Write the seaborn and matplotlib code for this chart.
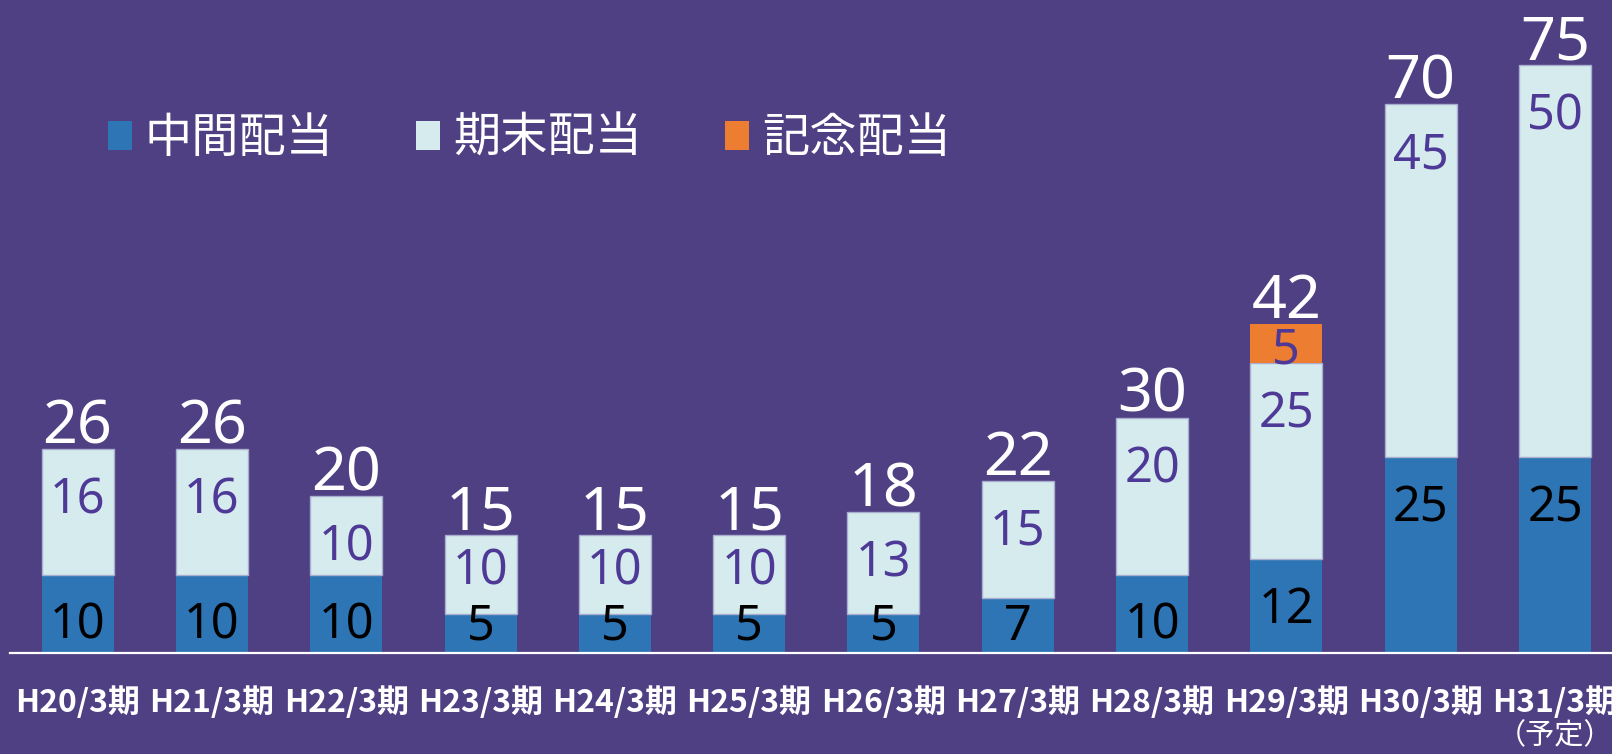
"""Dividend per share chart: interim / year-end / commemorative, stacked bars."""
import numpy as np
import pandas as pd
import matplotlib
matplotlib.use('Agg')
import matplotlib.pyplot as plt
from matplotlib.patches import Patch
import seaborn as sns

periods = ['H20/3期', 'H21/3期', 'H22/3期', 'H23/3期', 'H24/3期', 'H25/3期',
           'H26/3期', 'H27/3期', 'H28/3期', 'H29/3期', 'H30/3期', 'H31/3期']
interim = [10, 10, 10, 5, 5, 5, 5, 7, 10, 12, 25, 25]
year_end = [16, 16, 10, 10, 10, 10, 13, 15, 20, 25, 45, 50]
commem = [0, 0, 0, 0, 0, 0, 0, 0, 0, 5, 0, 0]
series_names = ['中間配当', '期末配当', '記念配当']
note_last = '（予定）'

BG = '#4F4084'
BLUE = '#2E75B6'
LIGHT = '#D6EBEE'
ORANGE = '#ED7D31'
PURPLE = '#4E3996'

df = pd.DataFrame({'period': periods, 'interim': interim,
                   'year_end': year_end, 'commem': commem})
df['base2'] = df['interim']
df['base3'] = df['interim'] + df['year_end']
df['total'] = df['base3'] + df['commem']

sns.set_theme(style='white')
plt.rcParams['font.family'] = ['Noto Sans', 'Noto Sans CJK JP', 'DejaVu Sans']

fig = plt.figure(figsize=(16.12, 7.54), dpi=100, facecolor=BG)
ax = fig.add_axes([10 / 1612, 101 / 754, 1 - 10 / 1612, 653 / 754])
ax.set_facecolor(BG)

W = 0.536
sns.barplot(data=df, x='period', y='interim', color=BLUE, saturation=1,
            width=W, errorbar=None, linewidth=0, ax=ax)
sns.barplot(data=df, x='period', y='year_end', bottom=df['base2'].values,
            color=LIGHT, saturation=1, width=W, errorbar=None,
            edgecolor='#A9AECF', linewidth=1, ax=ax)
sns.barplot(data=df, x='period', y='commem', bottom=df['base3'].values,
            color=ORANGE, saturation=1, width=W, errorbar=None,
            linewidth=0, ax=ax)

ax.set_xlim(-0.503, 11.424)
ax.set_ylim(0, 83.3)

SEG_FS = 35
CAP = 0.714  # digit height / em for Noto Sans


def seg_pos(lo, h, floor=None):
    # label sits ~6 units under the segment top, but not below the bottom
    top = lo + h
    y = max(top - 6.0, lo + 3.9)
    if lo > 0:
        y = min(y, top - 2.9)
    if floor is not None:
        y = max(y, floor)
    return y


def seg_label(i, y, h, color):
    ax.annotate(f'{h}', (i, y), xytext=(0, -CAP * SEG_FS / 2),
                textcoords='offset points', ha='center', va='baseline',
                fontsize=SEG_FS, color=color,
                family=['Noto Sans', 'DejaVu Sans'])


for i, r in df.iterrows():
    y1 = seg_pos(0, r['interim'])
    seg_label(i, y1, r['interim'], 'black')
    # keep the upper label clear of the lower one
    y2 = seg_pos(r['base2'], r['year_end'], floor=y1 + 7.0)
    seg_label(i, y2, r['year_end'], PURPLE)
    if r['commem'] > 0:
        seg_label(i, seg_pos(r['base3'], r['commem']), r['commem'], PURPLE)
    ax.text(i, r['total'] + 0.75, f"{r['total']}", ha='center', va='baseline',
            fontsize=44, color='white', family=['Noto Sans', 'DejaVu Sans'])

ax.set_xlabel('')
ax.set_ylabel('')
ax.set_yticks([])
ax.set_xticks(range(len(periods)))
ax.set_xticklabels(periods, fontsize=23, fontweight='bold', color='white',
                   family=['Noto Sans CJK JP', 'DejaVu Sans'])
ax.tick_params(axis='x', length=0, pad=24)
for s in ['top', 'left', 'right']:
    ax.spines[s].set_visible(False)
ax.spines['bottom'].set_color('white')
ax.spines['bottom'].set_linewidth(1.6)

ax.text(len(periods) - 1, -0.128, note_last, transform=ax.get_xaxis_transform(),
        ha='center', va='center', fontsize=21, color='white',
        family=['Noto Sans CJK JP', 'DejaVu Sans'])

handles = [Patch(facecolor=c, edgecolor='none') for c in [BLUE, LIGHT, ORANGE]]
fig.legend(handles, series_names, loc='center left', bbox_to_anchor=(0.067, 0.816),
           ncol=3, frameon=False, borderpad=0, borderaxespad=0,
           handlelength=0.5, handleheight=0.58, handletextpad=0.28,
           columnspacing=1.75, labelcolor='white',
           prop={'family': ['Noto Sans CJK JP', 'DejaVu Sans'], 'size': 34})

fig.savefig('out.png', dpi=100, facecolor=BG)
